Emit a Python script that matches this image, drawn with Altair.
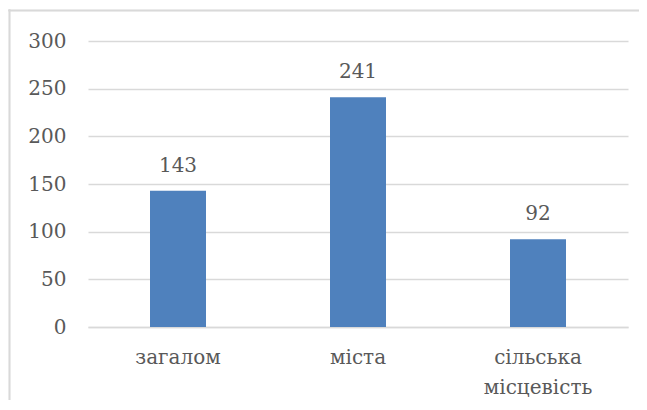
import altair as alt
import pandas as pd

categories = ["загалом", "міста", "сільська місцевість"]
values = [143, 241, 92]
y_ticks = [0, 50, 100, 150, 200, 250, 300]

df = pd.DataFrame({"cat": categories, "val": values})

FONT = "DejaVu Serif"
TXT = "#595959"
GRID = "#D9D9D9"
FS = 20

x = alt.X("cat:N", sort=categories, title=None,
          scale=alt.Scale(paddingInner=0, paddingOuter=0),
          axis=alt.Axis(labelAngle=0, labelFont=FONT, labelFontSize=FS, labelColor=TXT,
                        labelPadding=20, labelLineHeight=30, ticks=False,
                        domainColor=GRID, domainWidth=1.5,
                        labelExpr="split(datum.label, ' ')"))
y = alt.Y("val:Q", title=None,
          scale=alt.Scale(domain=[0, 300], nice=False),
          axis=alt.Axis(values=y_ticks, labelFont=FONT, labelFontSize=FS, labelColor=TXT,
                        labelPadding=22, ticks=False, domain=False,
                        gridColor=GRID, gridWidth=1.5))

bars = alt.Chart(df).mark_bar(size=56, color="#4F81BD").encode(x=x, y=y)
labels = alt.Chart(df).mark_text(font=FONT, fontSize=FS, color=TXT, baseline="bottom", dy=-15).encode(
    x=alt.X("cat:N", sort=categories), y="val:Q", text="val:Q")

border_top = alt.Chart(df).mark_rule(stroke=GRID, strokeWidth=1.5, clip=False).encode(
    x=alt.value(-79.5), x2=alt.value(551), y=alt.value(-30.5))
border_left = alt.Chart(df).mark_rule(stroke=GRID, strokeWidth=1.5, clip=False).encode(
    x=alt.value(-78.5), y=alt.value(-31.5), y2=alt.value(360))

chart = alt.layer(border_top, border_left, bars, labels).properties(
    width=540, height=286,
    autosize=alt.AutoSizeParams(type="none"),
    padding={"left": 80, "top": 33, "right": 11, "bottom": 73},
).configure_view(stroke=None)

chart.save("out.html", embed_options={"renderer": "svg", "actions": False})
